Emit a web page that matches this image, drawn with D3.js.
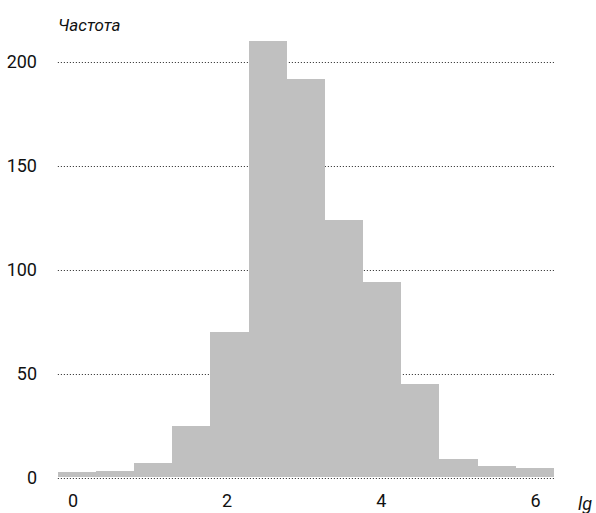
<!DOCTYPE html>
<html>
<head>
<meta charset="utf-8">
<script src="https://cdn.jsdelivr.net/npm/d3@7"></script>
<style>
  html, body { margin: 0; padding: 0; background: #fff; }
  svg { display: block; }
  text { font-family: "Liberation Sans Narrow", "Roboto", "Liberation Sans", sans-serif; fill: #111; }
</style>
</head>
<body>
<script>
// Histogram of lg values: bin edges and counts per bin
const binEdges = [-0.19, 0.305, 0.80, 1.295, 1.79, 2.285, 2.78, 3.275, 3.77, 4.265, 4.76, 5.255, 5.75, 6.245];
const counts   = [3, 3.5, 7, 25, 70, 210, 192, 124, 94, 45, 9, 6, 5];
const xTicks = [0, 2, 4, 6];
const yTicks = [0, 50, 100, 150, 200];
const xTitle = "lg";
const yTitle = "Частота";

const W = 596, H = 513;
const svg = d3.select("body").append("svg").attr("width", W).attr("height", H);

const x = d3.scaleLinear().domain([0, 6]).range([72.5, 535]);
const y = d3.scaleLinear().domain([0, 200]).range([478, 62]);

const bins = counts.map((c, i) => ({ x0: binEdges[i], x1: binEdges[i + 1], n: c }));

// dotted horizontal grid lines across the binned range
const grid = svg.append("g");
grid.selectAll("line").data(yTicks).join("line")
  .attr("x1", x(binEdges[0]))
  .attr("x2", x(binEdges[binEdges.length - 1]))
  .attr("y1", d => Math.round(y(d)) + 0.5)
  .attr("y2", d => Math.round(y(d)) + 0.5)
  .attr("stroke", "#222")
  .attr("stroke-width", 1)
  .attr("stroke-dasharray", "1,2");

// bars
svg.append("g").selectAll("rect").data(bins).join("rect")
  .attr("x", d => x(d.x0))
  .attr("width", d => x(d.x1) - x(d.x0))
  .attr("y", d => y(d.n))
  .attr("height", d => y(0) - 1.5 - y(d.n))
  .attr("fill", "#c0c0c0")
  .attr("shape-rendering", "crispEdges");

// y axis labels (right aligned, no axis line)
const yAxis = d3.axisLeft(y).tickValues(yTicks).tickSize(0).tickPadding(0).tickFormat(d3.format("d"));
const gy = svg.append("g").attr("transform", "translate(37,0)").call(yAxis);
gy.select(".domain").remove();
gy.selectAll("text").attr("font-size", 18).attr("font-family", null).attr("fill", "#111");

// x axis labels
const xAxis = d3.axisBottom(x).tickValues(xTicks).tickSize(0).tickPadding(0).tickFormat(d3.format("d"));
const gx = svg.append("g").attr("transform", "translate(0,494)").call(xAxis);
gx.select(".domain").remove();
gx.selectAll("text").attr("font-size", 18).attr("font-family", null).attr("fill", "#111");

// axis titles
svg.append("text").attr("x", 58).attr("y", 31)
  .attr("font-size", 17).attr("font-style", "italic").text(yTitle);
svg.append("text").attr("x", 585).attr("y", 510).attr("text-anchor", "middle")
  .attr("font-size", 18).attr("font-style", "italic").text(xTitle);
</script>
</body>
</html>
